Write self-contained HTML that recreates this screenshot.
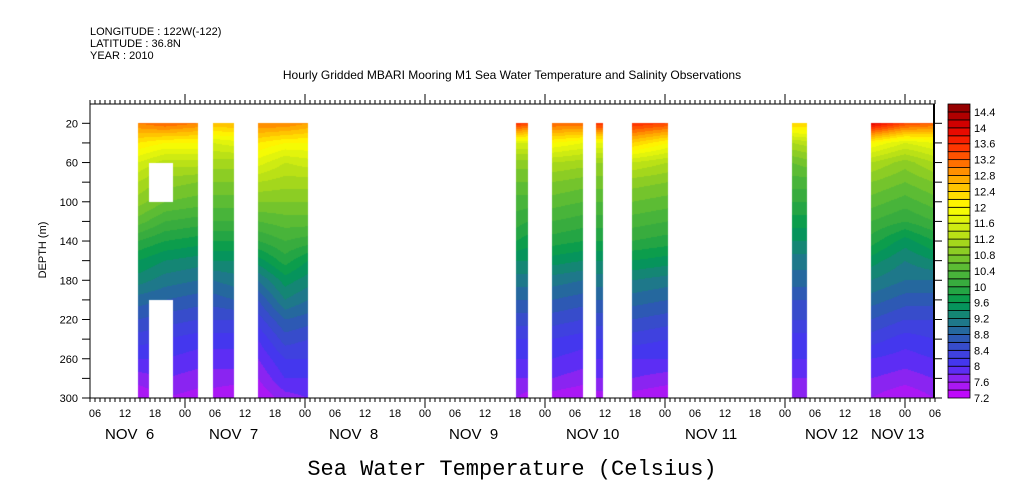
<!DOCTYPE html>
<html><head><meta charset="utf-8"><style>
body{margin:0;background:#fff;width:1009px;height:504px;overflow:hidden;position:relative;font-family:"Liberation Sans",sans-serif}
canvas,svg{position:absolute;left:0;top:0}
</style></head><body>
<canvas id="field" width="1009" height="504"></canvas>
<svg id="chart" width="1009" height="504"></svg>
<script>
const depths=[20,40,60,80,100,120,140,160,180,200,220,240,260,280,300];
const colHours=[14.6,20,26.6,29.6,33.8,38.6,44,48.6,90.2,92.6,97.4,103.6,106.2,107.6,113.4,120.6,145.4,148.4,161.2,168,173.8];
const colTemps=[
[13.0,12.2,11.6,11.2,10.9,10.5,10.0,9.6,9.3,8.9,8.6,8.3,8.0,7.7,7.4],
[13.2,12.0,11.3,10.9,10.6,10.2,9.8,9.4,9.1,8.8,8.5,8.2,8.0,7.8,7.6],
[13.0,12.0,11.3,10.8,10.5,10.1,9.7,9.3,9.0,8.7,8.4,8.1,7.9,7.7,7.5],
[12.6,11.6,11.1,10.8,10.5,10.2,9.8,9.4,9.0,8.7,8.4,8.1,7.9,7.7,7.5],
[12.6,11.7,11.1,10.8,10.5,10.2,9.8,9.4,9.1,8.8,8.4,8.1,7.9,7.7,7.4],
[13.0,12.2,11.7,11.2,10.8,10.4,10.0,9.5,9.0,8.6,8.3,8.0,7.8,7.6,7.4],
[13.0,12.0,11.4,11.1,10.8,10.5,10.2,9.9,9.5,9.2,8.8,8.5,8.2,8.0,7.7],
[12.8,12.0,11.5,11.1,10.8,10.5,10.1,9.6,9.3,9.0,8.7,8.4,8.2,8.0,7.8],
[13.6,11.6,10.9,10.6,10.3,10.1,9.8,9.4,9.1,8.8,8.5,8.2,8.0,7.8,7.6],
[13.4,11.6,10.9,10.6,10.3,10.0,9.7,9.4,9.1,8.8,8.5,8.2,8.0,7.8,7.5],
[13.2,12.0,11.2,10.8,10.5,10.2,9.9,9.5,9.1,8.8,8.5,8.2,8.0,7.8,7.5],
[13.2,11.8,11.1,10.7,10.4,10.1,9.8,9.4,9.0,8.7,8.4,8.1,7.9,7.7,7.4],
[13.6,11.8,11.0,10.7,10.4,10.1,9.8,9.4,9.1,8.8,8.5,8.2,8.0,7.8,7.5],
[13.6,11.8,11.0,10.7,10.4,10.1,9.8,9.4,9.1,8.8,8.5,8.2,8.0,7.8,7.5],
[13.6,12.4,11.4,10.9,10.6,10.3,10.0,9.6,9.2,8.9,8.6,8.3,8.0,7.8,7.5],
[13.4,12.0,11.2,10.8,10.5,10.2,9.9,9.5,9.1,8.8,8.5,8.2,8.0,7.7,7.4],
[12.4,11.2,10.6,10.3,10.0,9.7,9.4,9.1,8.9,8.6,8.4,8.1,8.0,7.8,7.6],
[12.4,11.3,10.7,10.3,10.0,9.7,9.4,9.1,8.9,8.6,8.4,8.1,8.0,7.8,7.6],
[14.0,12.0,11.2,10.8,10.5,10.2,9.9,9.5,9.2,8.9,8.6,8.3,8.0,7.8,7.6],
[13.4,11.6,10.9,10.6,10.3,10.0,9.5,9.2,9.0,8.7,8.4,8.1,7.9,7.7,7.4],
[13.2,11.8,11.2,10.8,10.5,10.2,9.8,9.4,9.0,8.7,8.4,8.2,8.0,7.8,7.6]];
const blockStart=[14.6,29.6,38.6,90.2,97.4,106.2,113.4,145.4,161.2];
const blockEnd=[26.6,33.8,48.6,92.6,103.6,107.6,120.6,148.4,173.8];
const holeStart=[16.8,16.8],holeEnd=[21.6,21.6],holeTop=[60,200],holeBot=[100,300];
const levels=[7.2,7.4,7.6,7.8,8,8.2,8.4,8.6,8.8,9,9.2,9.4,9.6,9.8,10,10.2,10.4,10.6,10.8,11,11.2,11.4,11.6,11.8,12,12.2,12.4,12.6,12.8,13,13.2,13.4,13.6,13.8,14,14.2,14.4,14.6];
const levelLabels=["7.2","7.6","8","8.4","8.8","9.2","9.6","10","10.4","10.8","11.2","11.6","12","12.4","12.8","13.2","13.6","14","14.4"];
const depthTicks=[20,60,100,140,180,220,260,300];
const hourLabels=["06","12","18","00"];
const dayNames=["NOV  6","NOV  7","NOV  8","NOV  9","NOV 10","NOV 11","NOV 12","NOV 13"];
const dayLabelX=[105,209,329,449,566,685,805,871];

const stops=[[7.2,200,0,255],[7.6,160,32,240],[8.0,70,50,245],[8.4,60,70,215],[8.8,40,96,168],[9.2,26,128,128],[9.6,0,154,80],[10,48,168,64],[10.4,80,184,56],[10.8,128,200,40],[11.2,176,220,24],[11.6,216,240,16],[12,255,255,0],[12.4,255,208,0],[12.8,255,160,0],[13.2,255,96,0],[13.6,255,40,0],[14,224,0,0],[14.4,160,0,0],[14.6,140,0,0]];
function colorOf(t){for(let i=0;i<stops.length-1;i++){if(t<=stops[i+1][0]){const a=stops[i],b=stops[i+1],f=(t-a[0])/(b[0]-a[0]);return 'rgb('+[1,2,3].map(k=>Math.round(a[k]+(b[k]-a[k])*f)).join(',')+')';}}return 'rgb(140,0,0)';}
function bandColor(t){let i=Math.floor((t-7.2)/0.2);i=Math.max(0,Math.min(levels.length-2,i));return colorOf(levels[i]+0.1);}

const X0=90,X1=934,Y0=104,Y1=398;
const xOf=h=>65+5*h;
const yOf=d=>123.3+(d-20)*(Y1-123.3)/280;
function profileAt(ci,d){const p=colTemps[ci];if(d<=20)return p[0];const k=Math.min(13,Math.floor((d-20)/20)),f=(d-depths[k])/20;return p[k]+(p[k+1]-p[k])*f;}
function tempAt(h,d){let i=0;while(i<colHours.length-2&&colHours[i+1]<h)i++;const f=Math.max(0,Math.min(1,(h-colHours[i])/(colHours[i+1]-colHours[i])));return profileAt(i,d)*(1-f)+profileAt(i+1,d)*f;}

const ctx=document.getElementById('field').getContext('2d');
for(let b=0;b<blockStart.length;b++){
  const xa=Math.round(xOf(blockStart[b])),xb=Math.round(xOf(blockEnd[b]));
  for(let x=xa;x<xb;x++){const h=(x+0.5-65)/5;
    for(let y=Math.round(yOf(20));y<Math.round(yOf(300));y++){
      const d=20+(y+0.5-yOf(20))*280/(yOf(300)-yOf(20));
      let hole=false;for(let k=0;k<holeStart.length;k++){if(h>=holeStart[k]&&h<holeEnd[k]&&d>=holeTop[k]&&d<holeBot[k])hole=true;}
      if(hole)continue;
      ctx.fillStyle=bandColor(tempAt(h,d));ctx.fillRect(x,y,1,1);}}}

const svg=document.getElementById('chart'),NS='http://www.w3.org/2000/svg';
function mk(tag,attrs,name,parent){const e=document.createElementNS(NS,tag);for(const k in attrs)e.setAttribute(k,attrs[k]);


(parent||svg).appendChild(e);return e;}
function txt(x,y,s,size,name,anchor,fam,extra){const t=mk('text',Object.assign({x:x,y:y,'font-size':size,'text-anchor':anchor||'start','font-family':fam||'Liberation Sans, sans-serif',fill:'#000'},extra||{}),name);t.textContent=s;return t;}

mk('rect',{x:X0,y:Y0,width:X1-X0,height:Y1-Y0,fill:'none',stroke:'#000','stroke-width':1},'plot-frame');
mk('line',{x1:X1,y1:Y0,x2:X1,y2:Y1,stroke:'#000','stroke-width':2},'right-axis');
for(let h=5;h<=174;h++){const x=xOf(h);if(x<X0||x>X1+2)continue;const major=h%24===0;const L=major?10:4;
  mk('line',{x1:x,y1:Y1,x2:x,y2:Y1+L,stroke:'#000'},'x-tick');
  mk('line',{x1:x,y1:Y0,x2:x,y2:Y0-L,stroke:'#000'},'x-tick-top');
  if(h%6===0)txt(x,417,hourLabels[(h/6-1+4)%4],11,'x-hour-label','middle');}
for(let d=20;d<=300;d+=20){const y=yOf(d);
  mk('line',{x1:X0-8,y1:y,x2:X0,y2:y,stroke:'#000'},'y-tick');
  mk('line',{x1:X1,y1:y,x2:X1+8,y2:y,stroke:'#000'},'y-tick-right');}
depthTicks.forEach(d=>txt(X0-12,yOf(d)+4,String(d),11,'y-tick-label','end'));
dayNames.forEach((s,i)=>txt(dayLabelX[i],439,s,15,'x-day-label','start','Liberation Sans, sans-serif',{'xml:space':'preserve','style':'white-space:pre'}));
txt(46,250,'DEPTH (m)',11,'y-axis-title','middle',null,{transform:'rotate(-90 46 250)'});
txt(90,35,'LONGITUDE : 122W(-122)',11,'longitude-label');
txt(90,47,'LATITUDE : 36.8N',11,'latitude-label');
txt(90,59,'YEAR : 2010',11,'year-label');
txt(512,79,'Hourly Gridded MBARI Mooring M1 Sea Water Temperature and Salinity Observations',12,'chart-title','middle');
txt(512,475,'Sea Water Temperature (Celsius)',22,'x-axis-title','middle','Liberation Mono, monospace');

const CB0=948,CB1=970,nb=levels.length-1,bh=(Y1-Y0)/nb;
for(let i=0;i<nb;i++){const y=Y1-(i+1)*bh;
  mk('rect',{x:CB0,y:y,width:CB1-CB0,height:bh,fill:colorOf(levels[i]+0.1),stroke:'#000','stroke-width':0.8},'colorbar-box');}
levelLabels.forEach((s,i)=>txt(CB1+4,Y1-i*2*bh+4,s,11,'colorbar-label'));
</script>
</body></html>
